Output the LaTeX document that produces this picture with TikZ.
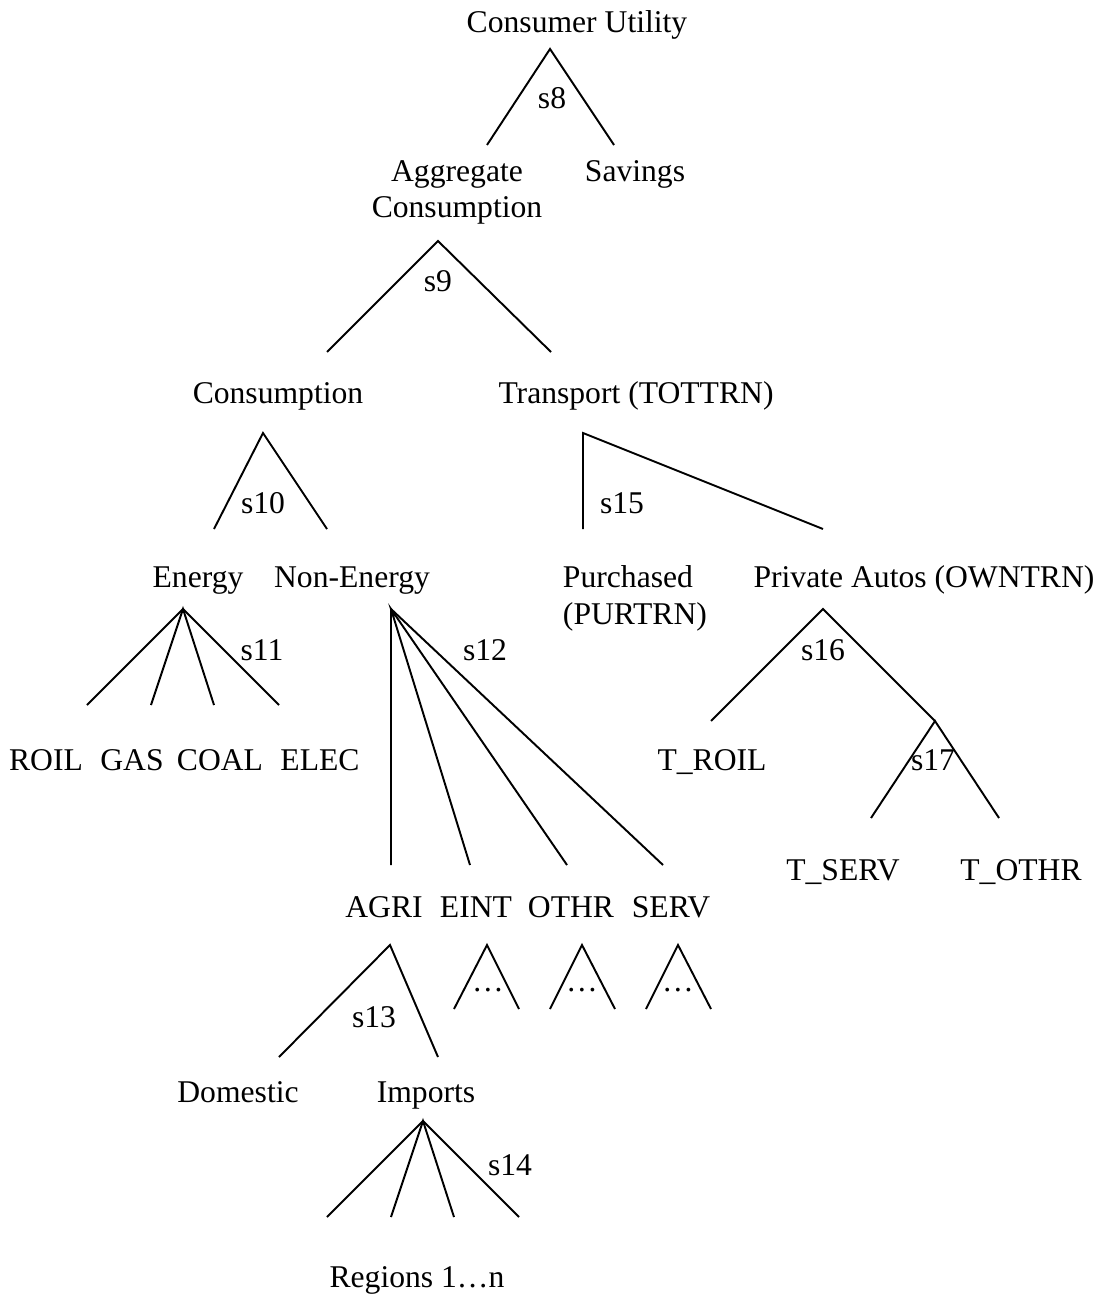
\documentclass[tikz,border=0pt]{standalone}
\usepackage{fontspec}
\setmainfont{Liberation Serif}
\usepackage{tikz}

\begin{document}
\begin{tikzpicture}[every node/.style={inner sep=0pt, anchor=base, font=\fontsize{18}{20.6}\selectfont}, line width=1.1pt]
            \useasboundingbox (0, 0) rectangle (22.06, -25.9);
            % labels of the tree
            \node (util) at (11.54, -0.66) {Consumer Utility};
            \node[align=center] (aggcons) at (9.14, -4.36) {Aggregate\\Consumption};
            \node (savings) at (12.70, -3.64) {Savings};
            \node (cons) at (5.56, -8.06) {Consumption};
            \node (tottrn) at (12.72, -8.06) {Transport (TOTTRN)};
            \node (energy) at (3.96, -11.74) {Energy};
            \node (nonenergy) at (7.04, -11.74) {Non-Energy};
            \node[align=left, anchor=base west] (purtrn) at (11.24, -12.48) {Purchased\\(PURTRN)};
            \node (owntrn) at (18.48, -11.74) {Private Autos (OWNTRN)};
            \node (roil) at (0.92, -15.40) {ROIL};
            \node (gas) at (2.64, -15.40) {GAS};
            \node (coal) at (4.40, -15.40) {COAL};
            \node (elec) at (6.40, -15.40) {ELEC};
            \node (troil) at (14.24, -15.40) {T\_ROIL};
            \node (tserv) at (16.86, -17.60) {T\_SERV};
            \node (tothr) at (20.42, -17.60) {T\_OTHR};
            \node (agri) at (7.68, -18.34) {AGRI};
            \node (eint) at (9.52, -18.34) {EINT};
            \node (othr) at (11.42, -18.34) {OTHR};
            \node (serv) at (13.42, -18.34) {SERV};
            \node (domestic) at (4.76, -22.04) {Domestic};
            \node (imports) at (8.52, -22.04) {Imports};
            \node (regions) at (8.34, -25.74) {Regions 1…n};
            % s8
            \coordinate (top8) at (11.00, -0.98);
            \coordinate (left8) at (9.74, -2.90);
            \coordinate (right8) at (12.28, -2.90);
            \draw (left8) -- (top8) -- (right8);
            \node (s8) at (11.04, -2.18) {s8};
            % s9
            \coordinate (top9) at (8.76, -4.82);
            \coordinate (left9) at (6.54, -7.04);
            \coordinate (right9) at (11.02, -7.04);
            \draw (left9) -- (top9) -- (right9);
            \node (s9) at (8.76, -5.84) {s9};
            % s10
            \coordinate (top10) at (5.26, -8.66);
            \coordinate (left10) at (4.28, -10.58);
            \coordinate (right10) at (6.54, -10.58);
            \draw (left10) -- (top10) -- (right10);
            \node (s10) at (5.26, -10.26) {s10};
            % s15
            \coordinate (top15) at (11.66, -8.66);
            \coordinate (left15) at (11.66, -10.58);
            \coordinate (right15) at (16.46, -10.58);
            \draw (left15) -- (top15) -- (right15);
            \node (s15) at (12.44, -10.26) {s15};
            % s11
            \coordinate (top11) at (3.66, -12.18);
            \coordinate (roilend) at (1.74, -14.10);
            \coordinate (gasend) at (3.02, -14.10);
            \coordinate (coalend) at (4.28, -14.10);
            \coordinate (elecend) at (5.58, -14.10);
            \draw (roilend) -- (top11) -- (elecend);
            \draw (gasend) -- (top11) -- (coalend);
            \node (s11) at (5.24, -13.20) {s11};
            % s12
            \coordinate (top12) at (7.82, -12.18);
            \coordinate (agriend) at (7.82, -17.30);
            \coordinate (eintend) at (9.40, -17.30);
            \coordinate (othrend) at (11.34, -17.30);
            \coordinate (servend) at (13.26, -17.30);
            \draw (agriend) -- (top12) -- (servend);
            \draw (eintend) -- (top12) -- (othrend);
            \node (s12) at (9.70, -13.20) {s12};
            % s16
            \coordinate (top16) at (16.46, -12.18);
            \coordinate (left16) at (14.22, -14.42);
            \coordinate (top17) at (18.70, -14.42);
            \draw (left16) -- (top16) -- (top17);
            \node (s16) at (16.46, -13.20) {s16};
            % s17
            \coordinate (left17) at (17.42, -16.36);
            \coordinate (right17) at (19.98, -16.36);
            \draw (left17) -- (top17) -- (right17);
            \node (s17) at (18.66, -15.40) {s17};
            % s13
            \coordinate (top13) at (7.80, -18.90);
            \coordinate (left13) at (5.58, -21.14);
            \coordinate (right13) at (8.76, -21.14);
            \draw (left13) -- (top13) -- (right13);
            \node (s13) at (7.48, -20.54) {s13};
            % nests below EINT, OTHR, SERV
            \coordinate (tope) at (9.74, -18.90);
            \coordinate (lefte) at (9.08, -20.18);
            \coordinate (righte) at (10.38, -20.18);
            \draw (lefte) -- (tope) -- (righte);
            \node (dotse) at (9.76, -19.82) {…};
            \coordinate (topo) at (11.64, -18.90);
            \coordinate (lefto) at (11.00, -20.18);
            \coordinate (righto) at (12.30, -20.18);
            \draw (lefto) -- (topo) -- (righto);
            \node (dotso) at (11.64, -19.82) {…};
            \coordinate (tops) at (13.56, -18.90);
            \coordinate (lefts) at (12.92, -20.18);
            \coordinate (rights) at (14.22, -20.18);
            \draw (lefts) -- (tops) -- (rights);
            \node (dotss) at (13.56, -19.82) {…};
            % s14
            \coordinate (top14) at (8.46, -22.42);
            \coordinate (reg1) at (6.54, -24.34);
            \coordinate (reg2) at (7.82, -24.34);
            \coordinate (reg3) at (9.08, -24.34);
            \coordinate (reg4) at (10.38, -24.34);
            \draw (reg1) -- (top14) -- (reg4);
            \draw (reg2) -- (top14) -- (reg3);
            \node (s14) at (10.20, -23.50) {s14};
        \end{tikzpicture}
\end{document}
